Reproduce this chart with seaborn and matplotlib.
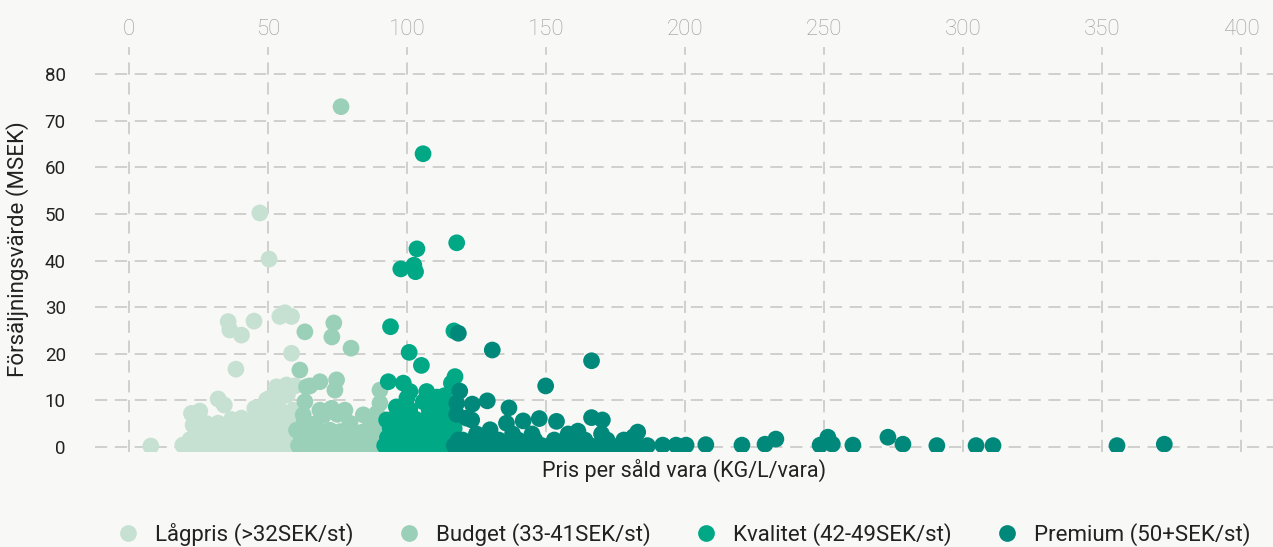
import pandas as pd
import matplotlib
matplotlib.use("Agg")
import matplotlib.pyplot as plt
import seaborn as sns

# Price per sold item (x) and sales value in MSEK (y), per price segment
lagpris_x = [7.9, 19.4, 22.5, 25.5, 23.1, 27.3, 32.1, 32.1, 34.3, 38.5, 36.9, 40.5, 45.3, 49.5,
             53.1, 56.7, 59.7, 58.5, 35.7, 36.3, 40.5, 45.0, 54.3, 56.1, 58.5, 47.1, 50.4, 50.7,
             48.3, 49.5, 54.3, 59.1, 39.3,
             21, 24, 27, 30, 33, 36, 39, 42, 45, 48, 51, 54, 57, 60,
             22, 26, 30, 34, 38, 42, 46, 50, 54, 58,
             25, 29, 35, 43, 47, 52, 56, 60,
             28, 44, 47, 51, 55, 58, 46, 52, 57, 55, 57]
lagpris_y = [0.2, 0.4, 7.2, 7.7, 4.7, 3.3, 5.1, 10.3, 9.0, 16.7, 5.9, 6.2, 8.3, 10.1,
             12.9, 13.3, 13.1, 20.1, 26.9, 25.1, 24.0, 27.0, 28.0, 28.8, 28.0, 50.2, 40.3, 10.5,
             7.9, 4.4, 7.9, 7.9, 3.1,
             0.3, 0.3, 0.3, 0.3, 0.3, 0.3, 0.3, 0.3, 0.3, 0.3, 0.3, 0.3, 0.3, 0.3,
             1.6, 1.6, 1.6, 1.6, 1.6, 1.6, 1.6, 1.6, 1.6, 1.6,
             3.2, 3.0, 3.3, 3.0, 3.2, 3.4, 3.1, 3.5,
             5.0, 5.2, 5.5, 5.8, 5.1, 5.6, 7.0, 7.2, 6.8, 10.8, 11.2]

budget_x = [76.3, 63.3, 73.7, 73.0, 79.9, 61.5, 65.1, 68.7, 74.7, 74.1, 63.9, 63.3, 68.7, 72.9,
            77.7, 84.3, 90.3, 90.3, 89.1, 62.7,
            61, 64, 67, 70, 73, 76, 79, 82, 85, 88, 91, 94,
            62, 66, 70, 74, 78, 82, 86, 90, 93,
            60.3, 65.1, 69, 72.3, 76, 80, 84, 88, 91,
            63, 67, 79.5, 86.7, 89, 70, 75, 83.1]
budget_y = [73.0, 24.7, 26.6, 23.6, 21.2, 16.5, 13.1, 14.0, 14.4, 12.2, 12.9, 9.7, 7.9, 8.3,
            7.9, 6.9, 9.4, 12.2, 7.2, 6.9,
            0.3, 0.3, 0.3, 0.3, 0.3, 0.3, 0.3, 0.3, 0.3, 0.3, 0.3, 0.3,
            1.8, 1.8, 1.8, 1.8, 1.8, 1.8, 1.8, 1.8, 1.8,
            3.6, 4.0, 3.4, 3.6, 3.3, 3.5, 3.2, 3.6, 3.8,
            5.2, 5.0, 5.1, 4.4, 5.0, 6.8, 7.0, 1.5]

kvalitet_x = [105.8, 103.6, 97.8, 102.5, 103.1, 117.9, 94.1, 116.9, 100.8, 105.2, 93.3, 98.7,
              101.1, 107.1, 117.3, 116.0, 111.9, 105.9, 96.2, 92.7, 110.8, 113.5, 100.0,
              92, 95, 98, 101, 104, 107, 110, 113, 116,
              93, 96.5, 100, 103.5, 107, 110.5, 114, 117,
              94, 98, 102, 106, 110, 114, 117,
              95, 99, 103, 107, 111, 115,
              97, 101, 108, 113, 116]
kvalitet_y = [62.9, 42.5, 38.2, 39.0, 37.6, 43.8, 25.8, 24.9, 20.3, 17.5, 14.0, 13.7,
              11.9, 11.9, 15.1, 13.7, 9.7, 9.7, 8.6, 5.8, 10.7, 11.0, 10.5,
              0.3, 0.3, 0.3, 0.3, 0.3, 0.3, 0.3, 0.3, 0.3,
              2.0, 2.0, 2.0, 2.0, 2.0, 2.0, 2.0, 2.0,
              4.0, 4.0, 4.0, 4.0, 4.0, 4.0, 4.0,
              6.0, 6.0, 6.0, 6.0, 6.0, 6.0,
              8.0, 8.0, 8.0, 8.0, 8.0]

premium_x = [118.5, 130.7, 166.4, 149.9, 119.0, 123.5, 128.9, 136.7, 117.9, 117.9, 123.3, 135.8,
             141.8, 147.6, 153.8, 166.4, 170.3, 129.9, 161.5, 181.5, 183.0, 118.5, 121.4,
             117, 120.5, 124, 127.5, 131, 134.5, 138, 141.5, 145, 148.5, 152, 155.5, 159, 162.5,
             166, 169.5, 173, 176.5, 180, 183.5, 186.5,
             120, 127, 133, 140, 146, 153, 159, 164, 172, 178,
             125, 138, 145, 158, 170,
             192.0, 196.8, 200.4, 207.5, 220.5, 228.8, 232.7, 248.6, 251.4, 253.0, 260.4,
             273.0, 278.4, 290.6, 304.7, 310.8, 355.4, 372.4]
premium_y = [24.4, 20.8, 18.5, 13.1, 12.0, 9.2, 9.9, 8.4, 9.4, 7.0, 5.8, 5.1,
             5.6, 6.1, 5.5, 6.3, 5.8, 3.7, 3.4, 2.2, 3.2, 1.5, 6.2,
             0.3, 0.3, 0.3, 0.3, 0.3, 0.3, 0.3, 0.3, 0.3, 0.3, 0.3, 0.3, 0.3, 0.3,
             0.3, 0.3, 0.3, 0.3, 0.3, 0.3, 0.3,
             1.5, 1.5, 1.5, 1.5, 1.5, 1.5, 1.5, 1.5, 1.5, 1.5,
             2.8, 2.8, 2.8, 2.8, 2.8,
             0.4, 0.4, 0.4, 0.5, 0.4, 0.6, 1.7, 0.4, 2.1, 0.6, 0.4,
             2.1, 0.6, 0.3, 0.3, 0.3, 0.3, 0.6]

segments = ["Lågpris (>32SEK/st)", "Budget (33-41SEK/st)",
            "Kvalitet (42-49SEK/st)", "Premium (50+SEK/st)"]
colors = ["#c6e1d2", "#9acfb8", "#00a886", "#00897a"]
x_ticks = [0, 50, 100, 150, 200, 250, 300, 350, 400]
y_ticks = [0, 10, 20, 30, 40, 50, 60, 70, 80]

frames = []
for name, xs, ys in zip(segments,
                        [lagpris_x, budget_x, kvalitet_x, premium_x],
                        [lagpris_y, budget_y, kvalitet_y, premium_y]):
    frames.append(pd.DataFrame({"pris": xs, "varde": ys, "segment": name}))
data = pd.concat(frames, ignore_index=True)

bg = "#f8f8f6"
sns.set_style("white")
plt.rcParams["font.family"] = ["Roboto", "DejaVu Sans"]

fig = plt.figure(figsize=(12.73, 5.47), dpi=100, facecolor=bg)
ax = fig.add_axes([0.0746, 0.1737, 0.9254, 0.7404])
ax.set_facecolor(bg)

sns.scatterplot(data=data, x="pris", y="varde", hue="segment", hue_order=segments,
                palette=dict(zip(segments, colors)), s=145, linewidth=0, alpha=1,
                ax=ax, zorder=3)

ax.set_xlim(-12.2, 411.5)
ax.set_ylim(-1.07, 85.8)
ax.set_xticks(x_ticks)
ax.set_yticks(y_ticks)
ax.xaxis.tick_top()
ax.xaxis.set_label_position("bottom")
ax.tick_params(axis="x", length=0, pad=5, labelsize=16, labelcolor="#999999")
for t in ax.get_xticklabels():
    t.set_fontweight("light")
ax.tick_params(axis="y", length=0, pad=21, labelsize=13.5, labelcolor="#222222")
ax.grid(True, color="#c4c4c4", linestyle=(0, (8, 5)), linewidth=1.1, zorder=0)
ax.set_axisbelow(True)
for sp in ax.spines.values():
    sp.set_visible(False)

ax.set_xlabel("Pris per såld vara (KG/L/vara)", fontsize=15.5, color="#222222", labelpad=5)
ax.set_ylabel("Försäljningsvärde (MSEK)", fontsize=16, color="#222222")
ax.yaxis.set_label_coords(-0.056, 0.5)

sns.move_legend(ax, "lower center", bbox_to_anchor=(0.537, -0.035),
                bbox_transform=fig.transFigure, ncol=4, frameon=False, title=None,
                fontsize=16, handlelength=1.0, handletextpad=0.7, columnspacing=2.0,
                markerscale=1.0)
for t in ax.get_legend().get_texts():
    t.set_color("#222222")

fig.savefig("out.png", dpi=100, facecolor=bg)
